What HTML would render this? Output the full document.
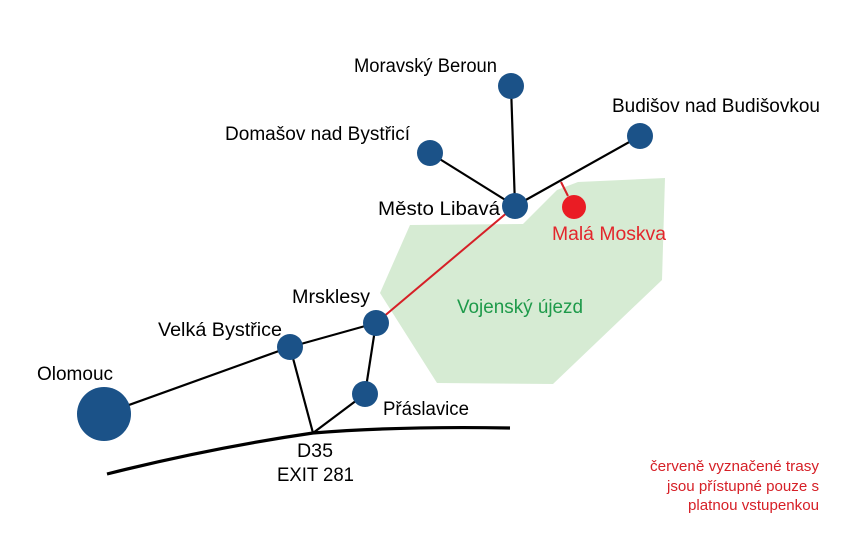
<!DOCTYPE html>
<html><head><meta charset="utf-8"><style>
html,body{margin:0;padding:0;background:#fff;}
svg{display:block;font-family:"Liberation Sans",sans-serif;}
</style></head><body>
<svg width="852" height="547" viewBox="0 0 852 547" xmlns="http://www.w3.org/2000/svg">
<polygon points="410,225 523,224 557,190 578,182 665,178 662,280 553,384 437,383 380,293" fill="#d6ebd3"/>
<g stroke="#000" stroke-width="2.2" fill="none">
<line x1="515" y1="206" x2="511" y2="86"/>
<line x1="515" y1="206" x2="430" y2="153"/>
<line x1="515" y1="206" x2="640" y2="136"/>
<line x1="104" y1="414" x2="290" y2="347"/>
<line x1="290" y1="347" x2="376" y2="323"/>
<line x1="290" y1="347" x2="313" y2="433"/>
<line x1="376" y1="323" x2="365" y2="394"/>
<line x1="365" y1="394" x2="313" y2="433"/>
</g>
<path d="M107,474 Q210,448 313,433 Q400,426 510,428" stroke="#000" stroke-width="3.2" fill="none"/>
<g stroke="#d62027" stroke-width="2">
<line x1="376" y1="323" x2="515" y2="206"/>
<line x1="561" y1="182" x2="568" y2="196"/>
</g>
<g fill="#1b5288">
<circle cx="511" cy="86" r="13"/>
<circle cx="430" cy="153" r="13"/>
<circle cx="640" cy="136" r="13"/>
<circle cx="515" cy="206" r="13"/>
<circle cx="376" cy="323" r="13"/>
<circle cx="290" cy="347" r="13"/>
<circle cx="365" cy="394" r="13"/>
<circle cx="104" cy="414" r="27"/>
</g>
<circle cx="574" cy="207" r="12" fill="#ea1c24"/>
<g font-size="19" fill="#000">
<text x="354" y="72" textLength="143" lengthAdjust="spacingAndGlyphs">Moravský Beroun</text>
<text x="612" y="112" textLength="208" lengthAdjust="spacingAndGlyphs">Budišov nad Budišovkou</text>
<text x="225" y="140" textLength="185" lengthAdjust="spacingAndGlyphs">Domašov nad Bystřicí</text>
<text x="378" y="215" textLength="122" lengthAdjust="spacingAndGlyphs">Město Libavá</text>
<text x="292" y="303" textLength="78" lengthAdjust="spacingAndGlyphs">Mrsklesy</text>
<text x="158" y="336" textLength="124" lengthAdjust="spacingAndGlyphs">Velká Bystřice</text>
<text x="37" y="380" textLength="76" lengthAdjust="spacingAndGlyphs">Olomouc</text>
<text x="383" y="415" textLength="86" lengthAdjust="spacingAndGlyphs">Přáslavice</text>
<text x="297" y="457" textLength="36" lengthAdjust="spacingAndGlyphs">D35</text>
<text x="277" y="481" textLength="77" lengthAdjust="spacingAndGlyphs">EXIT 281</text>
</g>
<text x="552" y="240" font-size="19" fill="#e3262c" textLength="114" lengthAdjust="spacingAndGlyphs">Malá Moskva</text>
<text x="457" y="313" font-size="19" fill="#1e9a4a" textLength="126" lengthAdjust="spacingAndGlyphs">Vojenský újezd</text>
<g font-size="15" fill="#d62027" text-anchor="end">
<text x="819" y="471" textLength="169" lengthAdjust="spacingAndGlyphs">červeně vyznačené trasy</text>
<text x="819" y="491" textLength="152" lengthAdjust="spacingAndGlyphs">jsou přístupné pouze s</text>
<text x="819" y="510" textLength="131" lengthAdjust="spacingAndGlyphs">platnou vstupenkou</text>
</g>
</svg>
</body></html>
